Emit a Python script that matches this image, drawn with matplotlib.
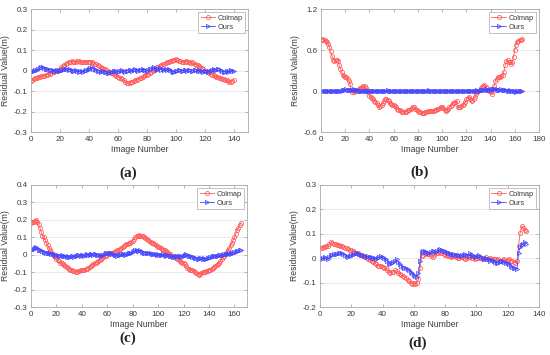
import matplotlib.pyplot as plt
import numpy as np

# ===== Daten (Residuen in mm, werden unten in m umgerechnet) =====
colmap_a = [-50, -47, -42, -38, -35, -33, -30, -28, -26, -25, -22,
            -20, -18, -15, -12, -8, -5, -2, 2, 5, 10,
            15, 20, 25, 30, 35, 40, 44, 46, 44, 42,
            44, 46, 45, 44, 42, 40, 41, 43, 44, 44,
            42, 40, 38, 34, 30, 26, 22, 18, 14, 10,
            6, 2, -2, -6, -10, -14, -18, -22, -26, -30,
            -34, -38, -42, -48, -55, -60, -62, -60, -57, -54,
            -50, -47, -44, -41, -38, -35, -31, -28, -24, -20,
            -15, -10, -5, 0, 5, 10, 15, 18, 22, 26,
            30, 32, 36, 40, 44, 46, 48, 50, 52, 55,
            52, 48, 45, 44, 42, 43, 45, 42, 40, 38,
            40, 36, 32, 28, 25, 22, 18, 12, 6, 0,
            -4, -8, -12, -16, -20, -24, -28, -31, -33, -35,
            -38, -40, -43, -46, -48, -52, -56, -54, -50, -44]
ours_a = [-5, -3, 0, 3, 5, 8, 12, 18, 15, 12, 10,
          8, 10, 5, 2, 5, 0, -2, 2, 0, -3,
          2, 5, 8, 6, 10, 5, 8, 3, 0, -2,
          2, -3, -5, 0, -2, -5, 0, 3, 5, 8,
          12, 15, 10, 8, 5, 0, -2, -5, -3, 0,
          -5, -8, -10, -12, -8, -5, 0, -3, 0, -5,
          -2, 0, 3, 0, -5, -2, 0, 3, 5, 0,
          5, 8, 3, 0, 5, 3, 8, 5, 2, 0,
          5, 10, 8, 12, 15, 10, 5, 8, 12, 5,
          8, 3, 10, 5, 8, 2, 0, -5, -8, -3,
          0, 5, 2, -3, 0, 5, 2, 0, 3, 5,
          0, -3, 2, 5, 0, 3, -2, 0, -5, -3,
          0, -5, -3, 0, 5, 8, 3, 5, 10, 8,
          5, 0, -5, -8, -3, -5, 0, 3, -2, -3]

colmap_b = [750, 755, 745, 740, 735, 720, 690, 640, 580, 520, 460,
            440, 450, 455, 440, 380, 330, 280, 240, 220, 210,
            200, 180, 150, 100, 20, -20, -10, 0, 10, 20,
            30, 40, 50, 60, 70, 80, 40, 20, -20, -70,
            -80, -100, -120, -140, -160, -180, -200, -230, -220, -200,
            -180, -150, -120, -110, -130, -150, -170, -190, -200, -210,
            -220, -240, -260, -270, -280, -290, -300, -310, -305, -300,
            -290, -280, -270, -260, -245, -230, -240, -260, -280, -290,
            -300, -310, -315, -320, -315, -310, -300, -295, -290, -285,
            -290, -295, -290, -280, -270, -265, -260, -250, -240, -235,
            -250, -270, -290, -280, -260, -240, -220, -200, -180, -170,
            -160, -150, -230, -240, -230, -220, -210, -190, -160, -120,
            -100, -90, -110, -130, -140, -120, -80, -40, -20, 0,
            20, 40, 60, 80, 90, 60, 40, 20, 0, -20,
            -40, 0, 80, 150, 180, 200, 200, 210, 220, 240,
            280, 380, 440, 450, 430, 420, 400, 420, 500, 600,
            680, 720, 730, 740, 745, 760]
ours_b = [0, 5, 3, -5, 0, 5, 0, -3, 2, 0, 5,
          3, 0, -5, 0, 2, 5, 8, 10, 15, 20,
          25, 20, 22, 18, 15, 20, 25, 18, 12, 10,
          5, 8, 0, -3, 2, 5, 0, -5, 0, 3,
          0, 5, 2, -3, 0, 5, 8, 3, 0, -5,
          0, 5, 3, 8, 10, 5, 0, 3, -2, 0,
          5, 0, -3, 2, 5, 0, 3, 0, -5, 0,
          3, 5, 0, -2, 3, 8, 5, 0, 2, 5,
          8, 3, 0, 5, 2, -3, 0, 5, 10, 8,
          5, 0, 3, 8, 5, 0, -5, 0, 3, 5,
          8, 5, 0, -3, 2, 0, 5, 3, 0, -5,
          0, 3, 5, 0, -5, -2, 0, 3, 5, 2,
          0, -3, 0, 5, 3, 0, 5, 8, 10, 5,
          8, 12, 15, 20, 18, 22, 25, 20, 18, 22,
          25, 30, 28, 25, 30, 22, 20, 18, 25, 20,
          15, 10, 12, 8, 5, 10, 8, 3, 0, -5,
          -8, -5, 0, 3, 5, 0]

colmap_c = [180, 185, 190, 195, 200, 190, 175, 155, 130, 110, 100,
            85, 70, 55, 40, 25, 15, 5, -5, -15, -25,
            -30, -38, -45, -50, -55, -60, -65, -70, -75, -80,
            -85, -90, -93, -95, -100, -98, -95, -92, -90, -88,
            -90, -85, -82, -80, -75, -70, -65, -60, -55, -50,
            -45, -40, -35, -30, -25, -20, -15, -10, -5, 0,
            5, 8, 10, 12, 15, 18, 22, 25, 30, 35,
            40, 45, 50, 55, 60, 62, 65, 70, 75, 80,
            90, 100, 108, 110, 112, 110, 108, 105, 100, 95,
            90, 85, 80, 75, 70, 65, 60, 55, 50, 45,
            42, 38, 35, 30, 25, 20, 15, 10, 5, 0,
            -5, -10, -15, -20, -25, -30, -35, -40, -45, -50,
            -55, -65, -75, -80, -85, -88, -90, -95, -100, -105,
            -110, -115, -110, -105, -100, -100, -98, -95, -92, -88,
            -85, -80, -75, -70, -65, -60, -55, -45, -35, -25,
            -15, -5, 5, 15, 25, 40, 55, 70, 85, 100,
            120, 140, 155, 170, 182]
ours_c = [25, 30, 35, 40, 42, 38, 30, 28, 25, 20, 18,
          15, 12, 10, 8, 10, 5, 3, 5, 0, -3,
          0, -5, -8, -3, -5, -10, -8, -12, -10, -15,
          -12, -8, -10, -12, -5, -8, -3, 0, -5, -3,
          0, -5, -2, 3, 0, -3, 5, 2, 0, 5,
          3, 0, -3, 0, -5, -2, 0, 3, 8, 10,
          12, 10, 8, 5, 3, 0, -2, -5, -3, 0,
          3, 5, 2, 0, 3, 5, 8, 10, 12, 15,
          20, 25, 28, 22, 20, 25, 18, 15, 12, 10,
          8, 10, 12, 8, 5, 3, 5, 2, 0, 3,
          0, -3, 0, 2, -2, -5, -3, 0, -5, -8,
          -10, -12, -15, -10, -8, -5, -10, -12, -8, -5,
          0, 3, -2, -5, -8, -10, -12, -15, -18, -20,
          -22, -25, -20, -18, -22, -20, -25, -22, -20, -18,
          -15, -12, -10, -8, -5, -8, -5, -3, 0, -2,
          0, 3, 5, 2, 5, 8, 5, 10, 12, 15,
          18, 20, 22, 25, 28]

colmap_d = [40, 42, 45, 48, 50, 52, 58, 65, 62, 60, 58,
            56, 55, 52, 50, 45, 42, 40, 38, 35, 32,
            30, 25, 22, 20, 18, 15, 12, 8, 5, 0,
            -5, -8, -10, -15, -20, -25, -30, -32, -30, -35,
            -38, -42, -50, -55, -60, -58, -55, -50, -52, -60,
            -65, -70, -72, -75, -80, -88, -95, -100, -105, -102,
            -105, -100, -85, -40, 10,
            15, 18, 20, 16, 18,
            10, 5, 15, 20, 22, 25, 22, 20, 18, 15,
            12, 10, 8, 5, 8, 10, 5, 2, 0, 5,
            3, 0, -2, 0, 3, 5, 2, 0, -3, 0,
            5, 2, 0, -3, 0, 3, -2, -5, 0, -3,
            -5, -3, -8, -5, -10, -12, -8, -5, -10, -8,
            -5, -10, -12, -15, -18, -10,
            50, 105, 130, 125, 115, 110]
ours_d = [0, -2, 0, 3, 0, -3, 5, 12, 15, 18, 17,
          18, 20, 22, 20, 18, 15, 10, 5, 8, 12,
          15, 18, 20, 22, 18, 15, 12, 10, 8, 5,
          8, 5, 3, 0, 2, -2, 0, 5, 8, 3,
          0, -5, -10, -20, -25, -20, -15, -10, -5, -15,
          -25, -30, -35, -38, -40, -45, -50, -55, -60, -70,
          -72, -75, -60, -10, 25,
          30, 28, 25, 22, 20,
          25, 28, 30, 25, 28, 35, 38, 35, 30, 28,
          25, 22, 20, 18, 15, 18, 15, 12, 15, 10,
          12, 15, 18, 15, 10, 20, 12, 8, 10, 5,
          10, 12, 5, 0, -5, 0, -3, -5, -10, -8,
          -12, -15, -20, -18, -15, -10, -12, -15, -18, -20,
          -25, -30, -35, -40, -42, -45,
          20, 45, 55, 60, 65, 60]

panels = [
    (colmap_a, ours_a, (0, 150), np.arange(0, 141, 20), (-0.3, 0.3), [-0.3, -0.2, -0.1, 0, 0.1, 0.2, 0.3], '(a)'),
    (colmap_b, ours_b, (0, 180), np.arange(0, 181, 20), (-0.6, 1.2), [-0.6, 0, 0.6, 1.2], '(b)'),
    (colmap_c, ours_c, (0, 170), np.arange(0, 161, 20), (-0.3, 0.4), [-0.3, -0.2, -0.1, 0, 0.1, 0.2, 0.3, 0.4], '(c)'),
    (colmap_d, ours_d, (0, 140), np.arange(0, 141, 20), (-0.2, 0.3), [-0.2, -0.1, 0, 0.1, 0.2, 0.3], '(d)'),
]

# Achsenpositionen in Bildkoordinaten [links, unten, breite, hoehe]
boxes = [
    [0.0564, 0.628, 0.395, 0.3465],
    [0.5836, 0.628, 0.3964, 0.3465],
    [0.0564, 0.135, 0.393, 0.344],
    [0.5818, 0.135, 0.398, 0.344],
]
label_pos = [(0.233, 0.513), (0.762, 0.515), (0.233, 0.048), (0.76, 0.034)]

plt.rcParams['font.family'] = 'Liberation Sans'
fig = plt.figure(figsize=(5.5, 3.55), dpi=100)
txt = '#3a3a3a'

for (red, blue, xl, xt, yl, yt, lab), box, lp in zip(panels, boxes, label_pos):
    ax = fig.add_axes(box)
    red = np.array(red) / 1000.0
    blue = np.array(blue) / 1000.0
    ax.plot(np.arange(len(red)), red, '-o', color='#ff5a5a', lw=0.6, ms=3.0,
            mfc='none', mew=0.55, label='Colmap')
    ax.plot(np.arange(len(blue)), blue, '->', color='#4848ff', lw=0.6, ms=3.0,
            mfc='none', mew=0.55, label='Ours')
    ax.set_xlim(*xl)
    ax.set_ylim(*yl)
    ax.set_xticks(xt)
    ax.set_yticks(yt)
    ax.set_yticklabels(['0' if v == 0 else f'{v:g}' for v in yt])
    ax.grid(True, axis='y', color='#e8e8e8', lw=0.6)
    ax.set_axisbelow(True)
    ax.tick_params(direction='in', length=2.5, width=0.5, labelsize=5.8,
                   colors='#999999', labelcolor=txt, top=True, right=True, pad=2.5)
    for s in ax.spines.values():
        s.set_color('#aaaaaa')
        s.set_linewidth(0.6)
    ax.set_xlabel('Image Number', fontsize=6.2, color=txt, labelpad=2)
    ax.set_ylabel('Residual Value(m)', fontsize=6.2, color=txt, labelpad=3)
    leg = ax.legend(loc='upper right', fontsize=5.3, handlelength=2.0, borderpad=0.35,
                    labelspacing=0.25, handletextpad=0.3, fancybox=False, framealpha=1,
                    borderaxespad=0.4)
    leg.get_frame().set_edgecolor('#aaaaaa')
    leg.get_frame().set_linewidth(0.5)
    for t in leg.get_texts():
        t.set_color(txt)
    fig.text(lp[0], lp[1], lab, ha='center', va='center', fontsize=11,
             fontweight='bold', family='Liberation Serif', color='#222222')

plt.savefig('out.png', dpi=100)
